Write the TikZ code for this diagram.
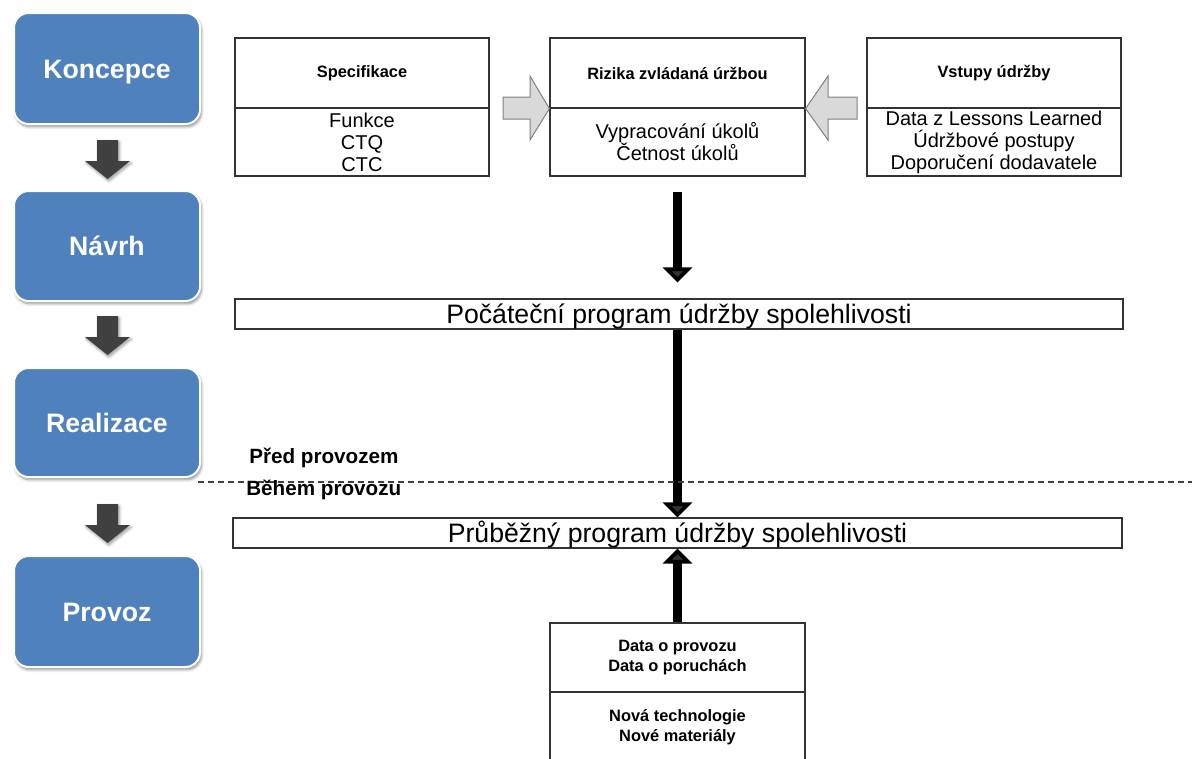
\documentclass[tikz,border=0pt]{standalone}
\usepackage{fontspec}
\setmainfont{Liberation Sans}
\usetikzlibrary{arrows.meta,shadows.blur}
\definecolor{phaseblue}{RGB}{79,129,189}
\definecolor{stepdark}{RGB}{64,64,64}
\definecolor{feedgray}{RGB}{217,217,217}
\begin{document}
\begin{tikzpicture}[x=0.75pt,y=-0.75pt,
  sz/.style 2 args={minimum width=#1*0.75pt, minimum height=#2*0.75pt},
  phase/.style={draw=white, line width=1.5pt, fill=phaseblue, rounded corners=11pt,
    inner sep=0pt, text=white, font=\fontsize{20}{24}\selectfont\bfseries,
    text height=14.3pt, text depth=0pt,
    blur shadow={shadow xshift=1pt, shadow yshift=-2pt, shadow blur steps=6, shadow opacity=45}},
  phasearrow/.style={fill=stepdark,
    blur shadow={shadow xshift=1pt, shadow yshift=-1.5pt, shadow blur steps=5, shadow opacity=40}},
  cell/.style={draw=black!80, line width=0.9pt, inner sep=0pt, fill=white},
  headtext/.style={font=\fontsize{12.3}{15}\selectfont\bfseries, align=center},
  bodytext/.style={font=\fontsize{15}{16.5}\selectfont, align=center},
  bar/.style={draw=black!80, line width=0.9pt, inner sep=0pt, fill=white,
    font=\fontsize{20}{24}\selectfont, text height=14.3pt, text depth=0pt},
  feed/.style={fill=feedgray, draw=gray, line width=0.75pt, line join=miter},
  flow/.style={line width=7pt, -{Triangle[width=21.75pt,length=11.25pt]}},
  phaselabel/.style={font=\fontsize{15.5}{18}\selectfont\bfseries, inner sep=0pt},
  divider/.style={draw=black!75, line width=0.8pt, dash pattern=on 4.5pt off 3pt}
]
\clip (0,0) rectangle (1192,758);

% life-cycle phases
\node[phase, sz={186}{111}] (konc)  at (107,68.5)  {Koncepce};
\node[phase, sz={186}{110}] (navrh) at (107,246)   {Návrh};
\node[phase, sz={186}{109}] (real)  at (107,422.5) {Realizace};
\node[phase, sz={186}{111}] (prov)  at (107,611.5) {Provoz};

% block arrows between the phases
\foreach \t in {140,316,504}{
  \path[phasearrow] (97,\t) -- (118,\t) -- (118,\t+21) -- (130,\t+21)
    -- (107.5,\t+39) -- (85,\t+21) -- (97,\t+21) -- cycle;
}

% inputs at the top
\node[cell, headtext, sz={254}{70}] (specH) at (362,73)   {Specifikace};
\node[cell, bodytext, sz={254}{68}] (specB) at (362,142)  {Funkce\\CTQ\\CTC};
\node[cell, headtext, sz={255}{70}] (riskH) at (677.5,73) {Rizika zvládaná úržbou};
\node[cell, bodytext, sz={255}{68}] (riskB) at (677.5,142) {Vypracování úkolů\\Četnost úkolů};
\node[cell, headtext, sz={254}{70}] (inH) at (994,73)  {Vstupy údržby};
\node[cell, bodytext, sz={254}{68}] (inB) at (994,142) {Data z Lessons Learned\\Údržbové postupy\\Doporučení dodavatele};

% grey feed arrows into the risk box
\path[feed] (503,97) -- (530,97) -- (530,76) -- (riskH.south west)
  -- (530,140) -- (530,119) -- (503,119) -- cycle;
\path[feed] (857,97) -- (828,97) -- (828,76) -- (riskH.south east)
  -- (828,140) -- (828,119) -- (857,119) -- cycle;

% programme bars
\node[bar, sz={888}{30}] (init) at (679,314)   {Počáteční program údržby spolehlivosti};
\node[bar, sz={889}{30}] (cont) at (677.5,533) {Průběžný program údržby spolehlivosti};

% operating data
\node[cell, headtext, sz={255}{69}] (opsH) at (677.5,657.5) {Data o provozu\\Data o poruchách};
\node[cell, headtext, sz={255}{70}] (opsB) at (677.5,727)   {Nová technologie\\Nové materiály};

% main flow
\draw[flow, shorten <=11.25pt, shorten >=12pt] (riskB.south) -- (riskB.south |- init.north);
\draw[flow] (init.south -| riskB.south) -- (cont.north -| riskB.south);
\draw[flow] (opsH.north) -- (opsH.north |- cont.south);

% before / during operation
\draw[divider] (198,482) -- (1192,482);
\node[phaselabel, anchor=base west] (pre) at (249,463) {Před provozem};
\node[phaselabel, anchor=base west] (dur) at (246,495) {Během provozu};
\end{tikzpicture}
\end{document}
